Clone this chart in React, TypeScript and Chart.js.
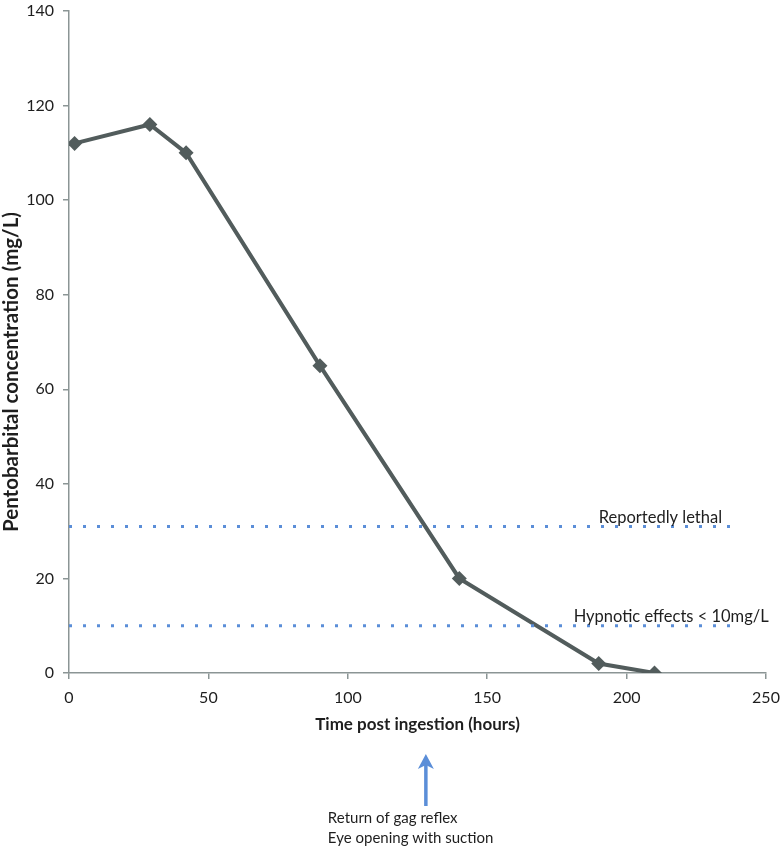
import { useEffect, useRef } from "react";
import { Chart, registerables } from "chart.js";
Chart.register(...registerables);

const hours = [2, 29, 42, 90, 140, 190, 210];
const concentration = [112, 116, 110, 65, 20, 2, 0];
const thresholdHours = [0, 240];
const lethalLevel = 31;
const hypnoticLevel = 10;
const lethalLabel = "Reportedly lethal";
const hypnoticLabel = "Hypnotic effects < 10mg/L";
const lethalLabelHour = 190;
const hypnoticLabelHour = 181;
const arrowHour = 128;
const noteLines = ["Return of gag reflex", "Eye opening with suction"];
const xTitle = "Time post ingestion (hours)";
const yTitle = "Pentobarbital concentration (mg/L)";

const FONT = "Lato, 'Open Sans', sans-serif";
const AXIS = "#8b9595";
const LINE = "#525c5c";
const BLUE = "#5b8ed8";

const annot = {
  id: "annot",
  afterDraw(chart: any) {
    const ctx = chart.ctx;
    const xs = chart.scales.x;
    const ys = chart.scales.y;
    const ca = chart.chartArea;
    ctx.save();
    ctx.fillStyle = "#1e1e1e";
    // y title
    ctx.save();
    ctx.translate(11, 372);
    ctx.rotate(-Math.PI / 2);
    ctx.font = `bold 20.5px ${FONT}`;
    ctx.textAlign = "center";
    ctx.textBaseline = "middle";
    ctx.fillText(yTitle, 0, 0);
    ctx.restore();
    // x title
    ctx.font = `bold 17px ${FONT}`;
    ctx.textAlign = "center";
    ctx.textBaseline = "middle";
    ctx.fillText(xTitle, (ca.left + ca.right) / 2, 725);
    // threshold labels
    ctx.font = `16.5px ${FONT}`;
    ctx.textAlign = "left";
    ctx.textBaseline = "alphabetic";
    ctx.fillText(lethalLabel, xs.getPixelForValue(lethalLabelHour), ys.getPixelForValue(lethalLevel) - 3);
    ctx.fillText(hypnoticLabel, xs.getPixelForValue(hypnoticLabelHour), ys.getPixelForValue(hypnoticLevel) - 4);
    // arrow
    const ax = xs.getPixelForValue(arrowHour);
    ctx.strokeStyle = BLUE;
    ctx.fillStyle = BLUE;
    ctx.lineWidth = 3.5;
    ctx.beginPath();
    ctx.moveTo(ax, 806);
    ctx.lineTo(ax, 764);
    ctx.stroke();
    ctx.beginPath();
    ctx.moveTo(ax, 754);
    ctx.lineTo(ax - 8, 769);
    ctx.lineTo(ax, 765);
    ctx.lineTo(ax + 8, 769);
    ctx.closePath();
    ctx.fill();
    // note
    ctx.fillStyle = "#1e1e1e";
    ctx.font = `15px ${FONT}`;
    ctx.textAlign = "left";
    ctx.textBaseline = "middle";
    noteLines.forEach((t, i) => ctx.fillText(t, ax - 98, 818 + i * 20));
    ctx.restore();
  },
};

export default function App() {
  const ref = useRef<HTMLCanvasElement>(null);
  useEffect(() => {
    if (!ref.current) return;
    const chart = new Chart(ref.current, {
      type: "line",
      data: {
        datasets: [
          {
            data: thresholdHours.map((h) => ({ x: h, y: lethalLevel })),
            borderColor: BLUE,
            borderWidth: 3,
            borderDash: [3, 11],
            pointRadius: 0,
          },
          {
            data: thresholdHours.map((h) => ({ x: h, y: hypnoticLevel })),
            borderColor: BLUE,
            borderWidth: 3,
            borderDash: [3, 11],
            pointRadius: 0,
          },
          {
            data: hours.map((h, i) => ({ x: h, y: concentration[i] })),
            borderColor: LINE,
            backgroundColor: LINE,
            borderWidth: 4,
            pointStyle: "rectRot",
            pointRadius: 7.5,
            pointBorderWidth: 0,
          },
        ],
      },
      options: {
        responsive: false,
        animation: false,
        layout: { padding: { top: 11, right: 14, left: 0, bottom: 0 } },
        plugins: { legend: { display: false }, tooltip: { enabled: false } },
        scales: {
          x: {
            type: "linear",
            min: 0,
            max: 250,
            ticks: { stepSize: 50, color: "#1e1e1e", font: { size: 16, family: FONT }, padding: 9 },
            grid: { drawOnChartArea: false, drawTicks: true, tickLength: 6, color: AXIS, lineWidth: 1.5 },
            border: { color: AXIS, width: 1.5 },
            afterFit: (s: any) => {
              s.height = 175;
              s.paddingLeft = 0;
              s.paddingRight = 0;
            },
          },
          y: {
            min: 0,
            max: 140,
            ticks: { stepSize: 20, color: "#1e1e1e", font: { size: 16, family: FONT }, padding: 9 },
            grid: { drawOnChartArea: false, drawTicks: true, tickLength: 6, color: AXIS, lineWidth: 1.5 },
            border: { color: AXIS, width: 1.5 },
            afterFit: (s: any) => {
              s.width = 69;
              s.paddingTop = 0;
              s.paddingBottom = 0;
            },
          },
        },
      },
      plugins: [annot],
    });
    return () => chart.destroy();
  }, []);
  return (
    <div style={{ position: "fixed", left: 0, top: 0, width: 780, height: 848, background: "#fff" }}>
      <canvas ref={ref} width={780} height={848} />
    </div>
  );
}
